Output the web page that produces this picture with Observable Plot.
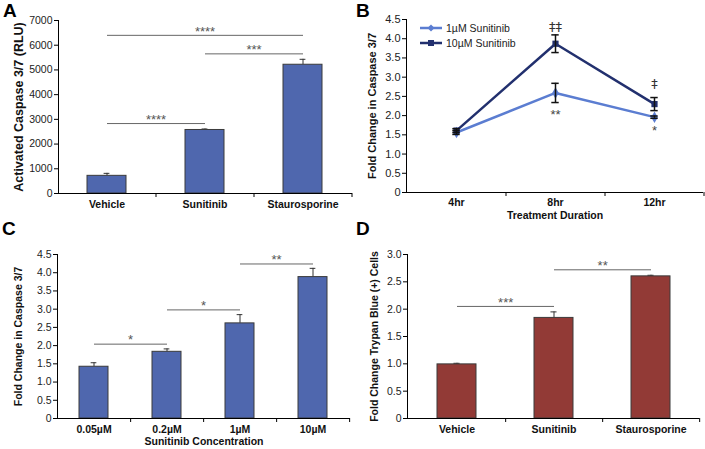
<!DOCTYPE html>
<html><head><meta charset="utf-8">
<script src="https://cdn.jsdelivr.net/npm/d3@7"></script>
<script src="https://cdn.jsdelivr.net/npm/@observablehq/plot@0.6"></script>
<style>
body{margin:0;background:#fff;}
#fig{position:relative;width:705px;height:449px;overflow:hidden;font-family:"Liberation Sans",Arial,Helvetica,sans-serif;background:#fff;}
.panel{position:absolute;}
.letter{position:absolute;font-weight:bold;font-size:19px;line-height:19px;color:#000;}
.legend{position:absolute;font-size:10.5px;color:#222;}
.legend .row{display:flex;align-items:center;height:15.4px;}
.legend svg{margin-right:3px;}
</style></head><body>
<div id="fig"></div>
<script>
// ---------- Panel A data ----------
const aCategories = ["Vehicle", "Sunitinib", "Staurosporine"];
const aValues = [715, 2570, 5210];
const aErrors = [100, 40, 220];
const aTicks = [0, 1000, 2000, 3000, 4000, 5000, 6000, 7000];
const aSigFrom = ["Vehicle", "Sunitinib", "Vehicle"];
const aSigTo = ["Staurosporine", "Staurosporine", "Sunitinib"];
const aSigY = [6400, 5650, 2830];
const aSigLabel = ["****", "***", "****"];

// ---------- Panel B data ----------
const bTimes = ["4hr", "8hr", "12hr"];
const bSeries = ["1µM Sunitinib", "10µM Sunitinib"];
const bLowValues = [1.56, 2.59, 1.96];
const bLowErrors = [0.05, 0.25, 0.03];
const bHighValues = [1.61, 3.87, 2.30];
const bHighErrors = [0.05, 0.23, 0.17];
const bTicks = [0, 0.5, 1, 1.5, 2, 2.5, 3, 3.5, 4, 4.5];
const bAnnoTime = ["8hr", "8hr", "12hr", "12hr"];
const bAnnoY = [4.31, 2.10, 2.82, 1.68];
const bAnnoLabel = ["‡‡", "**", "‡", "*"];

// ---------- Panel C data ----------
const cCategories = ["0.05µM", "0.2µM", "1µM", "10µM"];
const cValues = [1.42, 1.83, 2.61, 3.88];
const cErrors = [0.11, 0.08, 0.24, 0.24];
const cTicks = [0, 0.5, 1, 1.5, 2, 2.5, 3, 3.5, 4, 4.5];
const cSigFrom = ["0.05µM", "0.2µM", "1µM"];
const cSigTo = ["0.2µM", "1µM", "10µM"];
const cSigY = [2.04, 2.98, 4.24];
const cSigLabel = ["*", "*", "**"];

// ---------- Panel D data ----------
const dCategories = ["Vehicle", "Sunitinib", "Staurosporine"];
const dValues = [0.99, 1.84, 2.60];
const dErrors = [0.02, 0.11, 0.02];
const dTicks = [0, 0.5, 1, 1.5, 2, 2.5, 3];
const dSigFrom = ["Vehicle", "Sunitinib"];
const dSigTo = ["Sunitinib", "Staurosporine"];
const dSigY = [2.05, 2.72];
const dSigLabel = ["***", "**"];

const FONT = '"Liberation Sans", Arial, Helvetica, sans-serif';
const fmt1 = d => d === 0 ? "0" : d.toFixed(1);
const fmtInt = d => String(d);

function barPanel(o) {
  const n = o.categories.length;
  const step = (o.width - o.marginLeft - o.marginRight) / n;
  const bw = step * 0.4;
  const cap = 6;
  const rows = o.categories.map((c, i) => ({c, v: o.values[i], e: o.errors[i]}));
  const sigs = o.sigFrom.map((f, i) => ({from: f, to: o.sigTo[i], y: o.sigY[i], label: o.sigLabel[i]}));
  const idx = c => o.categories.indexOf(c);
  return Plot.plot({
    width: o.width, height: o.height,
    marginLeft: o.marginLeft, marginRight: o.marginRight, marginTop: o.marginTop, marginBottom: o.marginBottom,
    style: {fontFamily: FONT, fontSize: "10.5px", color: "#222", background: "transparent", overflow: "visible"},
    x: {type: "band", domain: o.categories, paddingInner: 0.6, paddingOuter: 0.3, label: null},
    y: {domain: o.yDomain, label: null},
    marks: [
      Plot.ruleX(rows, {x: "c", y1: "v", y2: d => d.v + d.e, stroke: "#333", strokeWidth: 1}),
      Plot.tickY(rows, {x: "c", y: d => d.v + d.e, stroke: "#333", strokeWidth: 1, insetLeft: (bw - cap) / 2, insetRight: (bw - cap) / 2}),
      Plot.barY(rows, {x: "c", y: "v", fill: o.fill, stroke: "#3a3a3a", strokeWidth: 1}),
      Plot.link(sigs, {x1: "from", x2: "to", y1: "y", y2: "y", stroke: "#666", strokeWidth: 1}),
      ...sigs.map(s => Plot.text([s], {x: "from", y: "y", text: "label", dx: (idx(s.to) - idx(s.from)) * step / 2, dy: -4, fill: "#555", fontSize: 13})),
      Plot.ruleY([0], {stroke: "#000", strokeWidth: 1}),
      Plot.frame({anchor: "left", stroke: "#000"}),
      Plot.ruleX(o.categories, {x: d => d, y1: 0, y2: 0, dx: step / 2, insetBottom: -4, stroke: "#000"}),
      Plot.axisY({ticks: o.yTicks, tickSize: 4, tickPadding: 2, tickFormat: o.tickFormat, label: null, stroke: "#000", fill: "#222"}),
      Plot.axisX({tickSize: 0, tickPadding: 7, fontWeight: "bold", label: null, fill: "#111"}),
      Plot.text([o.yLabel], {text: d => d, frameAnchor: "left", textAnchor: "middle", rotate: -90, dx: o.yLabelDx, fontWeight: "bold", fontSize: o.yLabelSize, fill: "#111"}),
      o.xLabel ? Plot.text([o.xLabel], {text: d => d, frameAnchor: "bottom", dy: o.xLabelDy, fontWeight: "bold", fontSize: 10.5, fill: "#111"}) : null
    ]
  });
}

function linePanel() {
  const width = 353, height = 225, ml = 54, mr = 2, mt = 19, mb = 33;
  const step = (width - ml - mr) / bTimes.length;
  const bw = step * 0.4;
  const cap = 7;
  const low = bTimes.map((t, i) => ({t, v: bLowValues[i], e: bLowErrors[i]}));
  const high = bTimes.map((t, i) => ({t, v: bHighValues[i], e: bHighErrors[i]}));
  const all = low.concat(high);
  const annos = bAnnoTime.map((t, i) => ({t, y: bAnnoY[i], label: bAnnoLabel[i]}));
  const stars = annos.filter(a => a.label.includes("*"));
  const daggers = annos.filter(a => !a.label.includes("*"));
  const LIGHT = "#5b7dd1", DARK = "#22306e";
  return Plot.plot({
    width, height, marginLeft: ml, marginRight: mr, marginTop: mt, marginBottom: mb,
    style: {fontFamily: FONT, fontSize: "10.5px", color: "#222", background: "transparent", overflow: "visible"},
    x: {type: "band", domain: bTimes, paddingInner: 0.6, paddingOuter: 0.3, label: null},
    y: {domain: [0, 4.5], label: null},
    marks: [
      Plot.line(low, {x: "t", y: "v", stroke: LIGHT, strokeWidth: 2.5}),
      Plot.line(high, {x: "t", y: "v", stroke: DARK, strokeWidth: 2.5}),
      Plot.dot(low, {x: "t", y: "v", symbol: "diamond", fill: LIGHT, r: 3.5}),
      Plot.dot(high, {x: "t", y: "v", symbol: "square", fill: DARK, r: 3.5}),
      Plot.ruleX(all, {x: "t", y1: d => d.v - d.e, y2: d => d.v + d.e, stroke: "#111", strokeWidth: 1.5}),
      Plot.tickY(all, {x: "t", y: d => d.v + d.e, stroke: "#111", strokeWidth: 1.5, insetLeft: (bw - cap) / 2, insetRight: (bw - cap) / 2}),
      Plot.tickY(all, {x: "t", y: d => d.v - d.e, stroke: "#111", strokeWidth: 1.5, insetLeft: (bw - cap) / 2, insetRight: (bw - cap) / 2}),
      Plot.text(daggers, {x: "t", y: "y", text: "label", fill: "#333", fontSize: 13, fontFamily: '"DejaVu Sans", sans-serif'}),
      Plot.text(stars, {x: "t", y: "y", text: "label", dy: 3, fill: "#444", fontSize: 13}),
      Plot.ruleY([0], {stroke: "#000"}),
      Plot.frame({anchor: "left", stroke: "#000"}),
      Plot.ruleX(bTimes, {x: d => d, y1: 0, y2: 0, dx: step / 2, insetBottom: -4, stroke: "#000"}),
      Plot.axisY({ticks: bTicks, tickSize: 4, tickPadding: 2, tickFormat: fmt1, label: null, stroke: "#000", fill: "#222", fontSize: 11}),
      Plot.axisX({tickSize: 0, tickPadding: 6, fontWeight: "bold", label: null, fill: "#111"}),
      Plot.text(["Fold Change in Caspase 3/7"], {text: d => d, frameAnchor: "left", textAnchor: "middle", rotate: -90, dx: -34, fontWeight: "bold", fontSize: 11, fill: "#111"}),
      Plot.text(["Treatment Duration"], {text: d => d, frameAnchor: "bottom", dy: 26.5, fontWeight: "bold", fontSize: 10.5, fill: "#111"})
    ]
  });
}

const fig = document.getElementById("fig");
function place(node, left, top) {
  const wrap = document.createElement("div");
  wrap.className = "panel";
  wrap.style.left = left + "px";
  wrap.style.top = top + "px";
  wrap.appendChild(node);
  fig.appendChild(wrap);
}

place(barPanel({
  categories: aCategories, values: aValues, errors: aErrors, yTicks: aTicks, yDomain: [0, 7000],
  sigFrom: aSigFrom, sigTo: aSigTo, sigY: aSigY, sigLabel: aSigLabel,
  width: 352, height: 225, marginLeft: 58, marginRight: 0, marginTop: 20, marginBottom: 32,
  fill: "#4f67ae", tickFormat: fmtInt, yLabel: "Activated Caspase 3/7 (RLU)", yLabelDx: -40, yLabelSize: 12.5
}), 0, 0);

place(linePanel(), 352, 0);

place(barPanel({
  categories: cCategories, values: cValues, errors: cErrors, yTicks: cTicks, yDomain: [0, 4.5],
  sigFrom: cSigFrom, sigTo: cSigTo, sigY: cSigY, sigLabel: cSigLabel,
  width: 352, height: 224, marginLeft: 57, marginRight: 2, marginTop: 29, marginBottom: 31,
  fill: "#4f67ae", tickFormat: fmt1, yLabel: "Fold Change in Caspase 3/7", yLabelDx: -39, yLabelSize: 10.5,
  xLabel: "Sunitinib Concentration", xLabelDy: 26
}), 0, 225);

place(barPanel({
  categories: dCategories, values: dValues, errors: dErrors, yTicks: dTicks, yDomain: [0, 3],
  sigFrom: dSigFrom, sigTo: dSigTo, sigY: dSigY, sigLabel: dSigLabel,
  width: 353, height: 224, marginLeft: 55, marginRight: 6, marginTop: 29, marginBottom: 31,
  fill: "#923a36", tickFormat: fmt1, yLabel: "Fold Change Trypan Blue (+) Cells", yLabelDx: -33, yLabelSize: 10.5
}), 352, 225);

// legend for panel B
const legend = document.createElement("div");
legend.className = "legend";
legend.style.left = "419px";
legend.style.top = "20px";
const legendColors = ["#5b7dd1", "#22306e"];
bSeries.forEach((name, i) => {
  const row = document.createElement("div");
  row.className = "row";
  const marker = i === 0
    ? '<path d="M12,1.5 L15.5,5 L12,8.5 L8.5,5 Z" fill="' + legendColors[i] + '"/>'
    : '<rect x="9" y="2" width="6" height="6" fill="' + legendColors[i] + '"/>';
  row.innerHTML = '<svg width="24" height="10"><line x1="1" y1="5" x2="23" y2="5" stroke="' + legendColors[i] + '" stroke-width="2.5"/>' + marker + '</svg><span>' + name + '</span>';
  legend.appendChild(row);
});
fig.appendChild(legend);

// panel letters
[["A", 3, 1], ["B", 356, 1], ["C", 2, 219], ["D", 356, 219]].forEach(([t, x, y]) => {
  const el = document.createElement("div");
  el.className = "letter";
  el.textContent = t;
  el.style.left = x + "px";
  el.style.top = y + "px";
  fig.appendChild(el);
});
</script>
</body></html>
